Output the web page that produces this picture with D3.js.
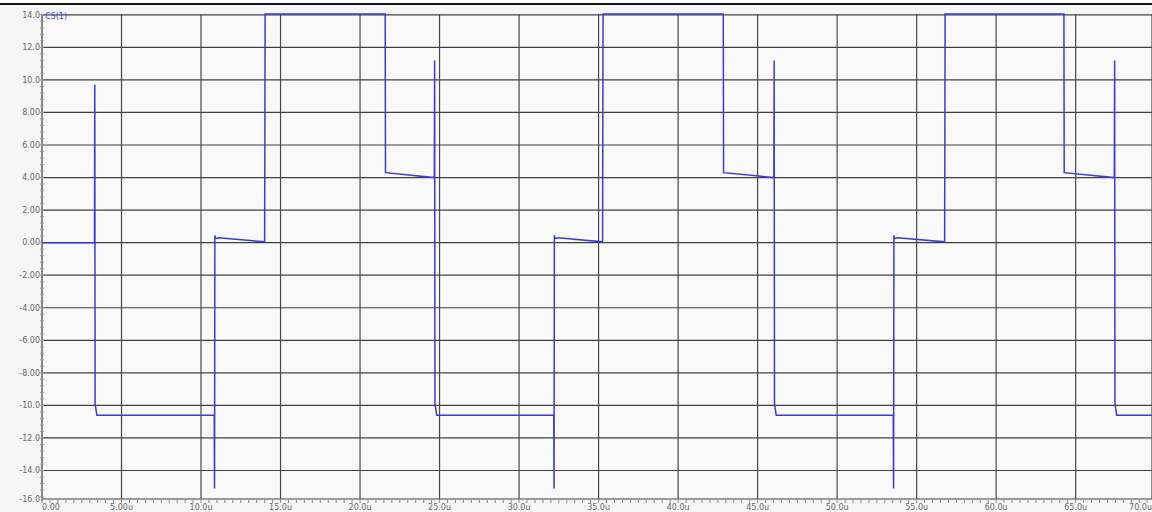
<!DOCTYPE html>
<html><head><meta charset="utf-8">
<script src="https://cdn.jsdelivr.net/npm/d3@7"></script>
<style>html,body{margin:0;padding:0;background:#fff;}svg{display:block;}</style>
</head><body>
<svg id="c" width="1152" height="512"></svg>
<script>
// ---- data ----
const traceName = "CS(1)";
const traceT = [0, 3.30, 3.32, 3.34, 3.45,
  10.83, 10.85, 10.87, 10.92, 11.1, 14.0, 14.03,
  21.58, 21.60, 24.67, 24.69, 24.71, 24.82,
  32.18, 32.20, 32.22, 32.27, 32.45, 35.25, 35.28,
  42.84, 42.86, 46.02, 46.04, 46.06, 46.17,
  53.53, 53.55, 53.57, 53.62, 53.8, 56.76, 56.79,
  64.26, 64.28, 67.43, 67.45, 67.47, 67.58, 69.8];
const traceV = [0, 0, 9.7, -9.9, -10.6,
  -10.6, -15.1, 0.45, 0.25, 0.3, 0.05, 14.05,
  14.05, 4.3, 4.0, 11.2, -9.9, -10.6,
  -10.6, -15.1, 0.45, 0.25, 0.3, 0.05, 14.05,
  14.05, 4.3, 4.0, 11.2, -9.9, -10.6,
  -10.6, -15.1, 0.45, 0.25, 0.3, 0.05, 14.05,
  14.05, 4.3, 4.0, 11.2, -9.9, -10.6, -10.6];
const xTicks = [0, 5, 10, 15, 20, 25, 30, 35, 40, 45, 50, 55, 60, 65, 70];
const xTickLabels = ["0.00", "5.00u", "10.0u", "15.0u", "20.0u", "25.0u", "30.0u", "35.0u", "40.0u", "45.0u", "50.0u", "55.0u", "60.0u", "65.0u", "70.0u"];
const yTicks = [14, 12, 10, 8, 6, 4, 2, 0, -2, -4, -6, -8, -10, -12, -14, -16];
const yTickLabels = ["14.0", "12.0", "10.0", "8.00", "6.00", "4.00", "2.00", "0.00", "-2.00", "-4.00", "-6.00", "-8.00", "-10.0", "-12.0", "-14.0", "-16.0"];

// ---- layout ----
const W = 1152, H = 512;
const L = 42, R = 1152, T = 14, B = 499;
const svg = d3.select("#c");
const x = d3.scaleLinear().domain([0, 69.8]).range([L, R]).clamp(true);
const y = d3.scaleLinear().domain([-15.75, 14.05]).range([B, T]).clamp(true);

svg.append("rect").attr("x", 0).attr("y", 0).attr("width", W).attr("height", H).attr("fill", "#f6f6f6");
svg.append("rect").attr("x", 0).attr("y", 0).attr("width", W).attr("height", 3).attr("fill", "#fff");
svg.append("rect").attr("x", L).attr("y", T).attr("width", R - L).attr("height", B - T).attr("fill", "#f9f9f9");
svg.append("line").attr("x1", 0).attr("x2", W).attr("y1", 4).attr("y2", 4).attr("stroke", "#111").attr("stroke-width", 2);

// grid
const g = svg.append("g");
g.selectAll("line.h").data(yTicks).join("line").attr("class", "h")
  .attr("x1", L).attr("x2", R).attr("y1", d => y(d)).attr("y2", d => y(d))
  .attr("stroke", "#404040").attr("stroke-width", 1.2);
g.selectAll("line.v").data(xTicks.slice(1)).join("line").attr("class", "v")
  .attr("x1", d => x(d)).attr("x2", d => x(d)).attr("y1", T).attr("y2", B)
  .attr("stroke", "#484848").attr("stroke-width", 1.2);

// left axis
svg.append("line").attr("x1", L).attr("x2", L).attr("y1", T).attr("y2", B + 2)
  .attr("stroke", "#888").attr("stroke-width", 2);
const yMinor = d3.range(-15.6, 14.01, 0.4);
svg.selectAll("line.ym").data(yMinor).join("line").attr("class", "ym")
  .attr("x1", L - 2).attr("x2", L + 2).attr("y1", d => y(d)).attr("y2", d => y(d))
  .attr("stroke", "#999").attr("stroke-width", 1);
svg.selectAll("text.yl").data(yTicks).join("text").attr("class", "yl")
  .attr("x", L - 2).attr("y", d => y(d)).attr("dy", "0.35em")
  .attr("text-anchor", "end").attr("font-family", "DejaVu Sans, sans-serif")
  .attr("font-size", 8).attr("fill", "#666")
  .text((d, i) => yTickLabels[i]);

// bottom minor ticks
const xMinor = d3.range(0, 69.8, 0.5);
svg.selectAll("line.xm").data(xMinor).join("line").attr("class", "xm")
  .attr("x1", d => x(d)).attr("x2", d => x(d)).attr("y1", B + 1).attr("y2", B + 4)
  .attr("stroke", "#888").attr("stroke-width", 1);
svg.selectAll("text.xl").data(xTicks).join("text").attr("class", "xl")
  .attr("x", d => x(d)).attr("y", 510)
  .attr("text-anchor", (d, i) => i === 0 ? "start" : (i === xTicks.length - 1 ? "end" : "middle"))
  .attr("font-family", "DejaVu Sans, sans-serif")
  .attr("font-size", 8).attr("fill", "#666")
  .text((d, i) => xTickLabels[i]);

// trace
const pts = traceT.map((t, i) => [t, traceV[i]]);
const line = d3.line().x(d => x(d[0])).y(d => y(d[1]));
svg.append("path").datum(pts).attr("d", line).attr("fill", "none")
  .attr("stroke", "#3b3bdc").attr("stroke-width", 1.5);

svg.append("text").attr("x", L + 3).attr("y", T + 5).attr("font-family", "DejaVu Sans, sans-serif")
  .attr("font-size", 8).attr("fill", "#4a4ad8").text(traceName);
</script>
</body></html>
